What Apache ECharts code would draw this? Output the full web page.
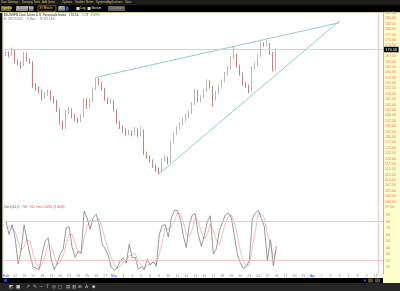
<!DOCTYPE html>
<html><head><meta charset="utf-8">
<script src="https://cdn.jsdelivr.net/npm/echarts@6/dist/echarts.min.js"></script>
<style>html,body{margin:0;padding:0;background:#fff}#c{width:400px;height:291px}</style>
</head><body><div id="c"></div>
<script>
// ---- data ----
const dayLabels = ['Feb','12','13','17','18','19','20','23','24','25','26','27',
  'Mar','3','4','5','6','9','10','11','12','13','16','17','18','19','20','23','24','25','26','27','30','31',
  'Apr','2','3','6','7','8','9','13'];
const barsPerDay = 3;
const opens = [168.2,168.9,168.0,170.0,164.8,164.3,163.2,168.5,165.7,164.6,
153.6,152.7,151.3,148.1,149.9,150.8,148.1,146.7,142.5,136.9,
134.1,141.6,142.5,139.7,138.3,137.4,139.7,147.1,143.9,146.7,
152.2,156.9,155.0,152.2,147.6,146.2,146.7,142.5,136.9,134.6,
133.2,131.4,132.3,131.4,133.7,130.9,133.0,122.5,120.7,118.8,
116.5,114.7,114.2,119.3,120.2,118.4,127.6,131.4,134.1,136.0,
137.9,139.7,141.1,145.3,151.3,146.7,148.5,151.3,155.9,153.2,
147.6,150.4,153.6,155.9,159.2,162.0,166.6,168.0,162.9,159.2,
154.6,153.6,151.8,162.0,163.4,167.5,173.1,172.7,173.1,168.9,
161.1];
const closes = [168.9,168.0,170.3,164.8,164.3,162.9,168.5,165.7,164.8,153.6,
152.7,151.3,148.1,149.9,150.8,148.1,146.7,142.5,136.9,134.1,
141.6,142.5,139.7,138.3,137.4,139.7,147.1,143.9,146.7,152.2,
156.9,155.0,152.2,147.6,146.2,146.7,142.5,136.9,134.6,133.2,
131.4,132.3,131.4,133.7,130.9,133.2,122.5,120.7,118.8,116.5,
114.7,114.2,119.3,120.2,118.4,127.6,131.4,134.1,136.0,137.9,
139.7,141.1,145.3,151.3,146.7,148.5,151.3,155.9,153.2,147.6,
150.4,153.6,155.9,159.2,162.0,166.6,168.0,162.9,159.2,154.6,
153.6,151.8,162.0,163.4,167.5,173.1,172.7,173.1,168.9,161.1,
170.56];
const highs = [170.1,169.6,171.5,170.6,165.9,165.0,169.4,169.0,166.6,165.2,
154.8,153.5,152.0,151.0,152.1,151.4,148.9,147.3,143.2,137.6,
142.6,143.9,143.3,140.8,139.0,140.6,148.0,147.9,147.8,153.1,
157.6,157.3,155.6,152.8,148.4,147.9,147.2,143.0,137.5,135.4,
134.0,133.5,133.0,134.6,134.1,134.8,133.5,123.3,121.5,119.6,
117.2,115.8,120.1,121.4,120.9,128.3,132.2,135.0,136.9,138.8,
140.9,142.3,146.2,152.4,151.8,149.4,152.3,156.8,156.3,153.7,
151.3,154.5,156.7,160.1,163.0,167.4,172.0,168.6,163.5,159.8,
155.5,154.2,162.8,164.5,168.4,174.3,173.9,174.8,173.6,169.4,
171.0];
const lows = [167.4,166.9,167.5,164.0,163.1,161.6,162.8,164.9,163.9,152.8,
151.6,150.2,146.9,147.5,149.0,147.0,145.6,141.6,135.8,133.4,
133.6,140.7,138.6,137.2,136.3,136.8,139.2,143.0,143.3,146.0,
151.7,154.1,151.4,146.8,145.2,145.4,141.7,136.0,133.7,132.1,
130.6,130.7,130.3,130.9,130.0,130.4,121.8,119.9,118.0,115.6,
113.9,112.8,113.8,118.6,117.3,118.0,127.0,130.8,133.3,135.3,
137.2,138.8,140.6,144.8,145.9,146.0,147.9,150.8,152.4,144.1,
146.9,149.8,153.0,155.3,158.6,161.5,165.9,162.0,158.4,153.8,
152.7,150.4,151.3,161.4,162.8,167.0,171.8,172.0,168.1,160.3,
160.6];
const stochK = [80,60,75,55,15,35,75,50,28,10,
8,6,30,50,55,22,6,15,30,37,
70,72,40,25,34,32,96,85,68,86,
91,75,45,38,28,10,5,8,20,24,
16,45,24,25,7,10,6,22,13,18,
11,60,74,75,56,85,97,97,84,58,
40,75,90,92,60,42,58,80,89,30,
38,66,78,90,93,86,58,30,16,8,
11,20,85,93,97,85,72,20,52,12,
42];
const stochD = [70,72,70,65,50,35,42,52,50,30,
15,8,14,28,45,42,28,14,17,27,
45,60,60,45,33,30,55,72,82,80,
82,84,70,52,37,25,14,8,11,17,
20,28,28,31,18,13,8,13,14,18,
14,30,48,70,68,72,80,93,92,80,
60,57,68,86,80,64,53,60,76,66,
52,45,60,78,87,90,80,58,35,18,
12,13,40,66,92,92,85,60,48,28,
35];
const upperTrend = [[30,157.6],[111,183.0]];   // [bar index, price]
const lowerTrend = [[51,112.8],[111,183.8]];
const lastPrice = 170.56;
const todayBar = 124;
const stochLevels = [80,20];

// ---- build ----
const categories = [];
dayLabels.forEach(d => { for (let k = 0; k < barsPerDay; k++) categories.push(d + '|' + k); });
const candleData = closes.map((c, i) => [opens[i], c, lows[i], highs[i]]);
const FONT = 'Liberation Sans, Arial, sans-serif';

const chart = echarts.init(document.getElementById('c'), null, {renderer: 'canvas'});

const menu = [['User Settings',1],['Drawing Tools',22],['Add Items',42],['Options',62],['Studies',75],['Notes',86],['Systems',96],['Applications',107],['View',125]];
const graphics = [
  {type:'rect', z:-5, shape:{x:0,y:0,width:400,height:5}, style:{fill:'#1c1c1c'}},
  {type:'rect', z:-5, shape:{x:0,y:5,width:400,height:7}, style:{fill:'#000'}},
  {type:'rect', z:-5, shape:{x:0,y:12,width:400,height:1}, style:{fill:'#cfcf9f'}},
  {type:'rect', z:-5, shape:{x:0,y:13,width:2.5,height:265}, style:{fill:'#0a0a0a'}},
  {type:'rect', z:-5, shape:{x:2.5,y:13,width:0.7,height:265}, style:{fill:'#b8b890'}},
  {type:'rect', z:-5, shape:{x:383,y:13,width:17,height:270}, style:{fill:'#ffffcc'}},
  {type:'rect', z:-5, shape:{x:0,y:278,width:383,height:5}, style:{fill:'#000'}},
  {type:'rect', z:-5, shape:{x:0,y:283,width:400,height:8}, style:{fill:'#262626'}},
  {type:'rect', z:5, shape:{x:4,y:279,width:3,height:3}, style:{fill:'#2040e0'}},
  {type:'rect', z:5, shape:{x:364,y:279.5,width:2,height:2}, style:{fill:'#3050ff'}},
  {type:'rect', z:5, shape:{x:368,y:278.5,width:5,height:4}, style:{fill:'#5a4a30'}},
  {type:'rect', z:5, shape:{x:375,y:278.5,width:5,height:4}, style:{fill:'#5a4a30'}},
  // toolbar
  {type:'rect', z:5, shape:{x:1,y:6,width:10,height:5}, style:{fill:'#6a6a20'}},
  {type:'text', z:6, style:{text:'Symbol', x:2, y:8.5, font:'3px '+FONT, fill:'#f0e080', verticalAlign:'middle'}},
  {type:'rect', z:5, shape:{x:16,y:6,width:12,height:5}, style:{fill:'#8a8a8a'}},
  {type:'text', z:6, style:{text:'$DJUSFN', x:17, y:8.5, font:'2.8px '+FONT, fill:'#ddd', verticalAlign:'middle'}},
  {type:'rect', z:5, shape:{x:29,y:6,width:4.5,height:5}, style:{fill:'#707070'}},
  {type:'text', z:6, style:{text:'Go', x:29.6, y:8.5, font:'2.8px '+FONT, fill:'#fff', verticalAlign:'middle'}},
  {type:'rect', z:5, shape:{x:38,y:5.8,width:18,height:5.4}, style:{fill:'#000', stroke:'#c8a030', lineWidth:0.6}},
  {type:'text', z:6, style:{text:'30 Minute', x:39.5, y:8.5, font:'3px '+FONT, fill:'#f0d070', verticalAlign:'middle'}},
  {type:'rect', z:5, shape:{x:58,y:6,width:7,height:5}, style:{fill:'#7a7a7a'}},
  {type:'text', z:6, style:{text:'40%', x:59, y:8.5, font:'2.8px '+FONT, fill:'#eee', verticalAlign:'middle'}},
  {type:'rect', z:5, shape:{x:65.5,y:6.5,width:3,height:4}, style:{fill:'#2a5ad0'}},
  {type:'rect', z:5, shape:{x:76.5,y:7,width:3,height:3}, style:{fill:'#ddd'}},
  {type:'text', z:6, style:{text:'Log', x:80.5, y:8.5, font:'3px '+FONT, fill:'#e8e8e8', verticalAlign:'middle'}},
  {type:'rect', z:5, shape:{x:87.5,y:7,width:3,height:3}, style:{fill:'#ddd'}},
  {type:'text', z:6, style:{text:'Stream', x:91.5, y:8.5, font:'3px '+FONT, fill:'#e8e8e8', verticalAlign:'middle'}},
  {type:'rect', z:5, shape:{x:108,y:6,width:17,height:5}, style:{fill:'#5a5a5a'}},
  {type:'text', z:6, style:{text:'Customize', x:109.5, y:8.5, font:'2.8px '+FONT, fill:'#aaa', verticalAlign:'middle'}},
  // title lines
  {type:'text', z:6, style:{text:'$DJUSFN Dow Jones U.S. Financials Index   170.56', x:4, y:15.6, font:'3.2px '+FONT, fill:'#222', verticalAlign:'middle'}},
  {type:'text', z:6, style:{text:'5.78   3.59%', x:82, y:15.6, font:'3.2px '+FONT, fill:'#1aa01a', verticalAlign:'middle'}},
  {type:'text', z:6, style:{text:'D: 03/27/2009  ·  9 Bars  ·  R 175.16%', x:4, y:19.6, font:'3px '+FONT, fill:'#777', verticalAlign:'middle'}},
  // stochastic legend
  {type:'text', z:6, style:{text:'Stoch(14,3)  ~%K', x:4, y:206.8, font:'3px '+FONT, fill:'#666', verticalAlign:'middle'}},
  {type:'text', z:6, style:{text:'~%D  Lines 20/80  (3.0000)', x:28, y:206.8, font:'3px '+FONT, fill:'#e05050', verticalAlign:'middle'}}
];
menu.forEach(m => graphics.push({type:'text', z:6, style:{text:m[0], x:m[1], y:2.6, font:'2.9px '+FONT, fill:'#d8c070', verticalAlign:'middle'}}));
['◩','■','↗','✎','—','T','◎','□','▤','▥','⊕','A','◆'].forEach((g, i) => {
  graphics.push({type:'text', z:6, style:{text:g, x:[9,16,26,33,39,46,52,58,66,72,78,85,92][i], y:287.3, font:'4.5px DejaVu Sans', fill:'#c8c8c8', verticalAlign:'middle'}});
});

const pink = '#f3b8b8';
chart.setOption({
  animation: false,
  backgroundColor: '#ffffff',
  grid: [
    {left: 4, top: 13, width: 379, height: 194},
    {left: 4, top: 208.5, width: 379, height: 65}
  ],
  xAxis: [
    {type:'category', gridIndex:0, data:categories, axisLine:{show:false}, axisTick:{show:false}, axisLabel:{show:false}, splitLine:{show:false}},
    {type:'category', gridIndex:1, data:categories, axisLine:{show:false}, axisTick:{show:false}, splitLine:{show:false},
      axisLabel:{interval:(i) => i % barsPerDay === 0, margin:0.8, fontSize:3.6, fontFamily:FONT, color:'#888',
        formatter:(v) => { const d = v.split('|')[0]; return isNaN(+d) ? '{m|' + d + '}' : d; },
        rich:{m:{color:'#2848ff', fontSize:3.6, fontFamily:FONT}}}}
  ],
  yAxis: [
    {type:'value', gridIndex:0, position:'right', min:97.5, max:187.5, interval:2.5,
      axisLine:{show:true, lineStyle:{color:'#a8a890', width:0.8}}, axisTick:{show:false}, splitLine:{show:false},
      axisLabel:{fontSize:3.6, fontFamily:FONT, color:'#ee7070', margin:2, formatter:(v) => v.toFixed(2)}},
    {type:'value', gridIndex:1, position:'right', min:0, max:100, interval:10,
      axisLine:{show:true, lineStyle:{color:'#a8a890', width:0.8}}, axisTick:{show:false}, splitLine:{show:false},
      axisLabel:{fontSize:3.6, fontFamily:FONT, color:'#ee7070', margin:3, formatter:(v) => (v <= 0 || v >= 100) ? '' : String(v)}}
  ],
  series: [
    {type:'candlestick', xAxisIndex:0, yAxisIndex:0, data:candleData, barWidth:1,
      itemStyle:{color:'#c8c8c8', color0:'#9a0000', borderColor:'#707070', borderColor0:'#9a0000', borderWidth:0.5},
      markLine:{symbol:'none', silent:true, animation:false,
        lineStyle:{color:pink, type:'solid', width:0.8},
        data:[
          {yAxis:lastPrice, label:{show:true, position:'end', distance:1, formatter:lastPrice.toFixed(2), color:'#fff', backgroundColor:'#000', fontSize:3.8, fontFamily:FONT, padding:[1,1.5,0.5,1.5]}},
          {xAxis:categories[todayBar], label:{show:false}}
        ]}},
    {type:'line', xAxisIndex:0, yAxisIndex:0, data:upperTrend, symbol:'none', lineStyle:{color:'#86c6c6', width:0.9}, z:3},
    {type:'line', xAxisIndex:0, yAxisIndex:0, data:lowerTrend, symbol:'none', lineStyle:{color:'#86c6c6', width:0.9}, z:3},
    {type:'line', xAxisIndex:1, yAxisIndex:1, data:stochD, symbol:'none', lineStyle:{color:'#e8a4a4', width:0.7}, z:3,
      markLine:{symbol:'none', silent:true, animation:false, lineStyle:{color:pink, type:'solid', width:0.8}, label:{show:false},
        data: stochLevels.map(l => ({yAxis:l})).concat([{xAxis:categories[todayBar]}])}},
    {type:'line', xAxisIndex:1, yAxisIndex:1, data:stochK, symbol:'none', lineStyle:{color:'#6e6e6e', width:0.7}, z:4}
  ],
  graphic: graphics
});
</script></body></html>
